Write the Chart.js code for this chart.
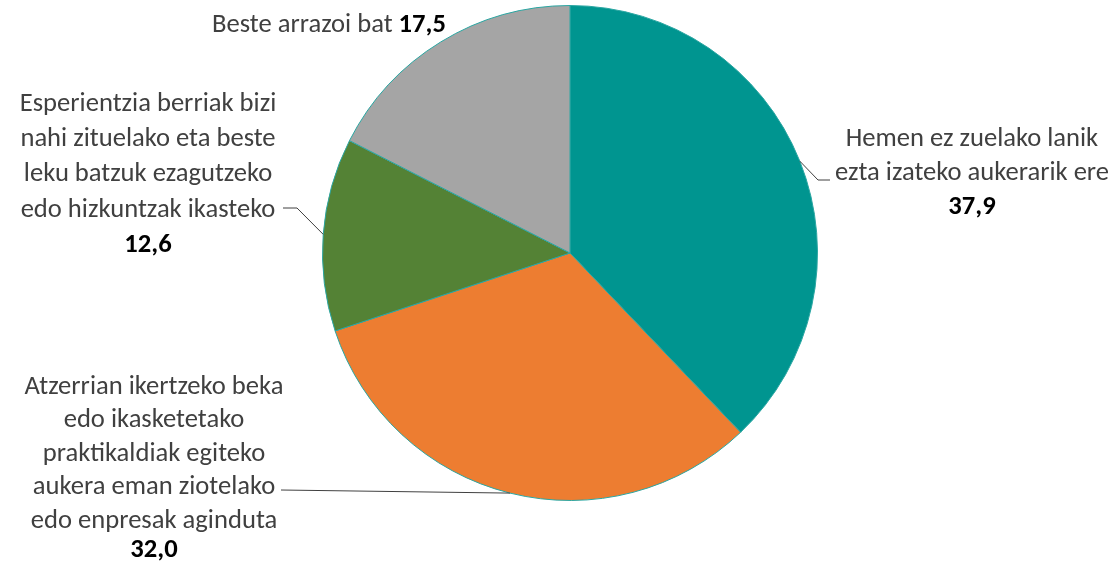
<!DOCTYPE html>
<html>
<head>
<meta charset="utf-8">
<script src="https://cdn.jsdelivr.net/npm/chart.js@4/dist/chart.umd.min.js"></script>
<style>
  html, body { margin: 0; padding: 0; background: #fff; }
  #wrap { width: 1117px; height: 563px; }
</style>
</head>
<body>
<div id="wrap"><canvas id="chart" width="1117" height="563"></canvas></div>
<script>
'use strict';

// chart data
const categories = [
  ['Hemen ez zuelako lanik', 'ezta izateko aukerarik ere'],
  ['Atzerrian ikertzeko beka', 'edo ikasketetako', 'praktikaldiak egiteko', 'aukera eman ziotelako', 'edo enpresak aginduta'],
  ['Esperientzia berriak bizi', 'nahi zituelako eta beste', 'leku batzuk ezagutzeko', 'edo hizkuntzak ikasteko'],
  ['Beste arrazoi bat']
];
const values = [37.9, 32.0, 12.6, 17.5];
const valueLabels = ['37,9', '32,0', '12,6', '17,5'];
const colors = ['#009590', '#ED7D31', '#548235', '#A5A5A5'];

const FONT = 'Carlito, Calibri, Lato, sans-serif';
const SIZE = 26.6;

// where each label block sits (center x, first line y, line gap) and the leader line knee
const labelSpots = [
  { x: 972, y: 139, gap: 34, knee: { x: 818, y: 180 }, end: { x: 830, y: 180 } },
  { x: 154, y: 387, gap: 33.5, valGap: 29, knee: { x: 281, y: 490 }, end: { x: 281, y: 490 } },
  { x: 148, y: 104, gap: 35.3, knee: { x: 297, y: 208 }, end: { x: 283, y: 208 } },
  { x: 212, y: 25, inline: true }
];

// draws the labels and leader lines next to each slice
const labelPlugin = {
  id: 'sliceLabels',
  afterDatasetsDraw(chart) {
    const ctx = chart.ctx;
    const arcs = chart.getDatasetMeta(0).data;
    ctx.save();
    ctx.textBaseline = 'middle';
    arcs.forEach((arc, i) => {
      const spot = labelSpots[i];
      if (spot.inline) {
        // single line, name then bold value
        const name = categories[i][0] + ' ';
        ctx.font = SIZE + 'px ' + FONT;
        const wn = ctx.measureText(name).width;
        ctx.textAlign = 'left';
        ctx.fillStyle = '#404040';
        ctx.fillText(name, spot.x, spot.y);
        ctx.font = 'bold ' + SIZE + 'px ' + FONT;
        ctx.fillStyle = '#000';
        ctx.fillText(valueLabels[i], spot.x + wn, spot.y);
        return;
      }
      const mid = (arc.startAngle + arc.endAngle) / 2;
      const ex = arc.x + Math.cos(mid) * arc.outerRadius;
      const ey = arc.y + Math.sin(mid) * arc.outerRadius;
      ctx.strokeStyle = '#404040';
      ctx.lineWidth = 1;
      ctx.beginPath();
      ctx.moveTo(ex, ey);
      ctx.lineTo(spot.knee.x, spot.knee.y);
      ctx.lineTo(spot.end.x, spot.end.y);
      ctx.stroke();

      ctx.textAlign = 'center';
      ctx.font = SIZE + 'px ' + FONT;
      ctx.fillStyle = '#404040';
      categories[i].forEach((line, j) => {
        ctx.fillText(line, spot.x, spot.y + j * spot.gap);
      });
      const n = categories[i].length;
      const vy = spot.y + (n - 1) * spot.gap + (spot.valGap || spot.gap);
      ctx.font = 'bold ' + SIZE + 'px ' + FONT;
      ctx.fillStyle = '#000';
      ctx.fillText(valueLabels[i], spot.x, vy);
    });
    ctx.restore();
  }
};

const canvasEl = document.getElementById('chart');

function drawChart() {
  return new Chart(canvasEl, {
    type: 'pie',
    data: {
      labels: categories.map(c => c.join(' ')),
      datasets: [{
        data: values,
        backgroundColor: colors,
        borderColor: '#2aa6a2',
        borderWidth: 1
      }]
    },
    options: {
      responsive: false,
      animation: false,
      layout: {
        padding: { top: 5, bottom: 62, left: 322, right: 299 }
      },
      plugins: {
        legend: { display: false },
        tooltip: { enabled: false }
      }
    },
    plugins: [labelPlugin]
  });
}

drawChart();
</script>
</body>
</html>
